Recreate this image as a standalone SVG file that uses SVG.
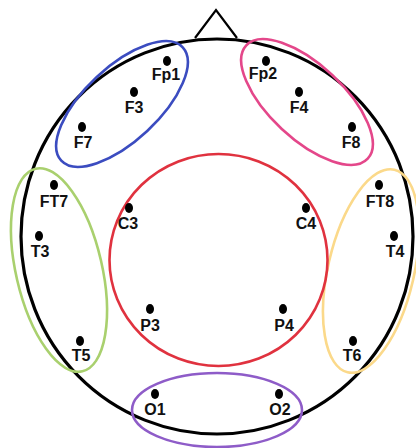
<svg xmlns="http://www.w3.org/2000/svg" width="416" height="448" viewBox="0 0 416 448">
  <style>
    .head { fill: none; stroke: #000; stroke-width: 3.2; }
    .nose { fill: none; stroke: #000; stroke-width: 2.2; stroke-linejoin: miter; }
    .region { fill: none; stroke-width: 2.6; }
    .dot { fill: #000; }
    .lbl { font-family: "Liberation Sans", Arial, sans-serif; font-size: 16px; font-weight: bold; fill: #111; text-anchor: middle; }
  </style>

  <!-- head outline and nose -->
  <g id="head">
    <polyline class="nose" points="195,38 216,10 237,38"/>
    <ellipse class="head" cx="217" cy="236.5" rx="196" ry="197.5"/>
  </g>

  <!-- electrode groupings -->
  <g id="regions">
    <ellipse id="frontal-left" class="region" stroke="#3b4cc0" cx="122" cy="104" rx="83" ry="37" transform="rotate(-43 122 104)"/>
    <ellipse id="frontal-right" class="region" stroke="#e4478a" cx="307" cy="102" rx="83" ry="37" transform="rotate(43 307 102)"/>
    <ellipse id="temporal-left" class="region" stroke="#a9d06e" cx="59" cy="270" rx="43" ry="104" transform="rotate(-13 59 270)"/>
    <ellipse id="temporal-right" class="region" stroke="#fbd98a" cx="371" cy="271" rx="43" ry="104" transform="rotate(13 371 271)"/>
    <ellipse id="central" class="region" stroke="#e0323f" cx="218.5" cy="260" rx="109" ry="106"/>
    <ellipse id="occipital" class="region" stroke="#8e5cc8" cx="217" cy="410" rx="85" ry="37"/>
  </g>

  <!-- electrodes -->
  <g id="Fp1"><ellipse class="dot" cx="167" cy="61" rx="4" ry="5"/><text class="lbl" x="166" y="80">Fp1</text></g>
  <g id="F3"><ellipse class="dot" cx="134" cy="92" rx="4" ry="5"/><text class="lbl" x="134" y="113">F3</text></g>
  <g id="F7"><ellipse class="dot" cx="82" cy="127" rx="4" ry="5"/><text class="lbl" x="83" y="148">F7</text></g>
  <g id="Fp2"><ellipse class="dot" cx="266" cy="61" rx="4" ry="5"/><text class="lbl" x="263" y="79">Fp2</text></g>
  <g id="F4"><ellipse class="dot" cx="299" cy="92" rx="4" ry="5"/><text class="lbl" x="299" y="113">F4</text></g>
  <g id="F8"><ellipse class="dot" cx="352" cy="127" rx="4" ry="5"/><text class="lbl" x="351" y="148">F8</text></g>
  <g id="FT7"><ellipse class="dot" cx="54" cy="185" rx="4" ry="5"/><text class="lbl" x="54" y="207">FT7</text></g>
  <g id="T3"><ellipse class="dot" cx="39" cy="236" rx="4" ry="5"/><text class="lbl" x="40" y="257">T3</text></g>
  <g id="T5"><ellipse class="dot" cx="80" cy="341" rx="4" ry="5"/><text class="lbl" x="81" y="361">T5</text></g>
  <g id="C3"><ellipse class="dot" cx="129" cy="208" rx="4" ry="5"/><text class="lbl" x="128" y="229">C3</text></g>
  <g id="C4"><ellipse class="dot" cx="306" cy="208" rx="4" ry="5"/><text class="lbl" x="306" y="229">C4</text></g>
  <g id="P3"><ellipse class="dot" cx="150" cy="309" rx="4" ry="5"/><text class="lbl" x="150" y="331">P3</text></g>
  <g id="P4"><ellipse class="dot" cx="283" cy="309" rx="4" ry="5"/><text class="lbl" x="284" y="331">P4</text></g>
  <g id="FT8"><ellipse class="dot" cx="379" cy="185" rx="4" ry="5"/><text class="lbl" x="380" y="207">FT8</text></g>
  <g id="T4"><ellipse class="dot" cx="394" cy="236" rx="4" ry="5"/><text class="lbl" x="395" y="257">T4</text></g>
  <g id="T6"><ellipse class="dot" cx="353" cy="341" rx="4" ry="5"/><text class="lbl" x="352" y="361">T6</text></g>
  <g id="O1"><ellipse class="dot" cx="155" cy="394" rx="4" ry="5"/><text class="lbl" x="155" y="415">O1</text></g>
  <g id="O2"><ellipse class="dot" cx="279" cy="394" rx="4" ry="5"/><text class="lbl" x="280" y="415">O2</text></g>

  <!-- no connectors in this montage -->
  <g id="connectors"/>
</svg>
